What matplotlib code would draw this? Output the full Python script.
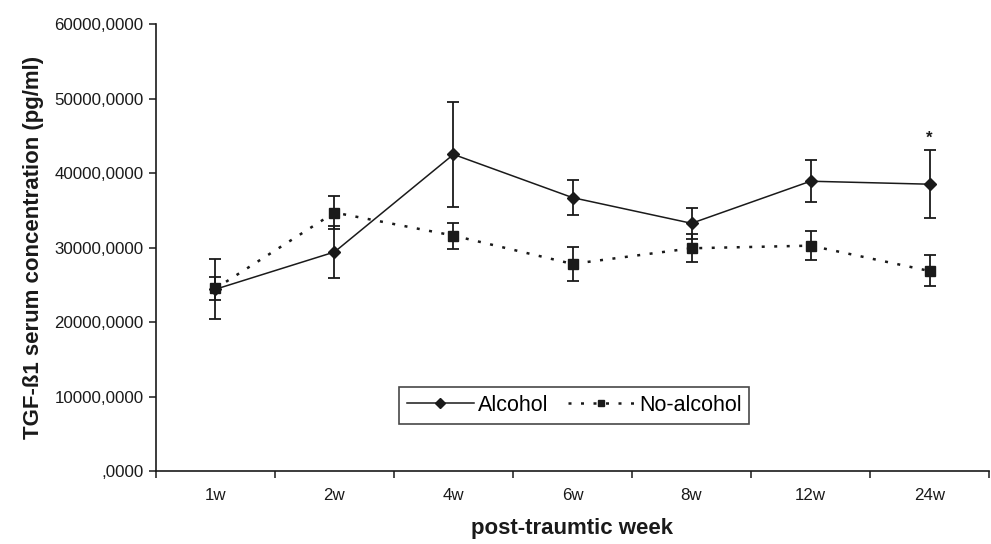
import numpy as np
import matplotlib
matplotlib.use("Agg")
import matplotlib.pyplot as plt
from matplotlib.lines import Line2D
from matplotlib.ticker import FuncFormatter, FixedLocator

plt.rcParams['font.family'] = ['Liberation Sans', 'DejaVu Sans']

# --- data ---
weeks = ['1w', '2w', '4w', '6w', '8w', '12w', '24w']
alcohol = [24400, 29400, 42500, 36700, 33250, 38900, 38500]
alcohol_err = [4050, 3500, 7100, 2350, 2100, 2820, 4540]
no_alcohol = [24500, 34700, 31600, 27800, 29900, 30250, 26850]
no_alcohol_err = [1500, 2200, 1750, 2250, 1900, 1920, 2080]
star_week = 6
star_value = 44600

ink = '#1a1a1a'
dots = (0, (1.2, 3.8))

def fmt_y(v, pos):
  if v == 0:
    return ',0000'
  return f"{int(v)},0000"

fig = plt.figure(figsize=(9.91, 5.44), dpi=100)
ax = fig.add_axes([0.1574, 0.1342, 0.8406, 0.8216])

x = np.arange(len(weeks))
ax.errorbar(x, alcohol, yerr=alcohol_err, color=ink, linestyle='-', linewidth=1.1,
            marker='D', markersize=6.5, capsize=4.6, elinewidth=1.3, capthick=1.3,
            zorder=3)
ax.errorbar(x, no_alcohol, yerr=no_alcohol_err, color=ink, linestyle=dots,
            linewidth=1.8, marker='s', markersize=7, capsize=4.6, elinewidth=1.3,
            capthick=1.3, zorder=3)

ax.text(star_week, star_value, '*', ha='center', va='center', fontsize=12,
        fontweight='bold', color=ink)

ax.set_xlim(-0.5, len(weeks) - 0.5)
ax.set_ylim(0, 60000)
ax.set_yticks(np.arange(0, 60001, 10000))
ax.yaxis.set_major_formatter(FuncFormatter(fmt_y))

ax.set_xticks(x)
ax.set_xticklabels(weeks)
ax.xaxis.set_minor_locator(FixedLocator(np.arange(-0.5, len(weeks), 1.0)))
ax.tick_params(axis='x', which='major', length=0, pad=12, labelsize=12.2, colors=ink)
ax.tick_params(axis='x', which='minor', length=5, width=1.1, color=ink)
ax.tick_params(axis='y', length=5, width=1.1, labelsize=12.2, colors=ink, pad=4)

for s in ['top', 'right']:
  ax.spines[s].set_visible(False)
for s in ['left', 'bottom']:
  ax.spines[s].set_linewidth(1.2)
  ax.spines[s].set_color(ink)

ax.set_xlabel('post-traumtic week', fontsize=16, fontweight='bold', color=ink)
ax.set_ylabel('TGF-ß1 serum concentration (pg/ml)', fontsize=16, fontweight='bold',
              color=ink)
ax.xaxis.set_label_coords(0.499, -0.105)
ax.yaxis.set_label_coords(-0.135, 0.5)

# legend handles: plain line + marker, no error bars
handles = [
  Line2D([], [], color=ink, linestyle='-', linewidth=1.1, marker='D', markersize=5),
  Line2D([], [], color=ink, linestyle=dots, linewidth=1.8, marker='s', markersize=5),
]
leg = ax.legend(handles, ['Alcohol', 'No-alcohol'], loc='center',
                bbox_to_anchor=(0.502, 0.1465), ncol=2, fontsize=15.5,
                frameon=True, fancybox=False, handlelength=3.1, handletextpad=0.2,
                columnspacing=0.9, borderpad=0.35, borderaxespad=0, numpoints=1)
leg.get_frame().set_edgecolor(ink)
leg.get_frame().set_linewidth(1.2)

fig.savefig('out.png', dpi=100)
